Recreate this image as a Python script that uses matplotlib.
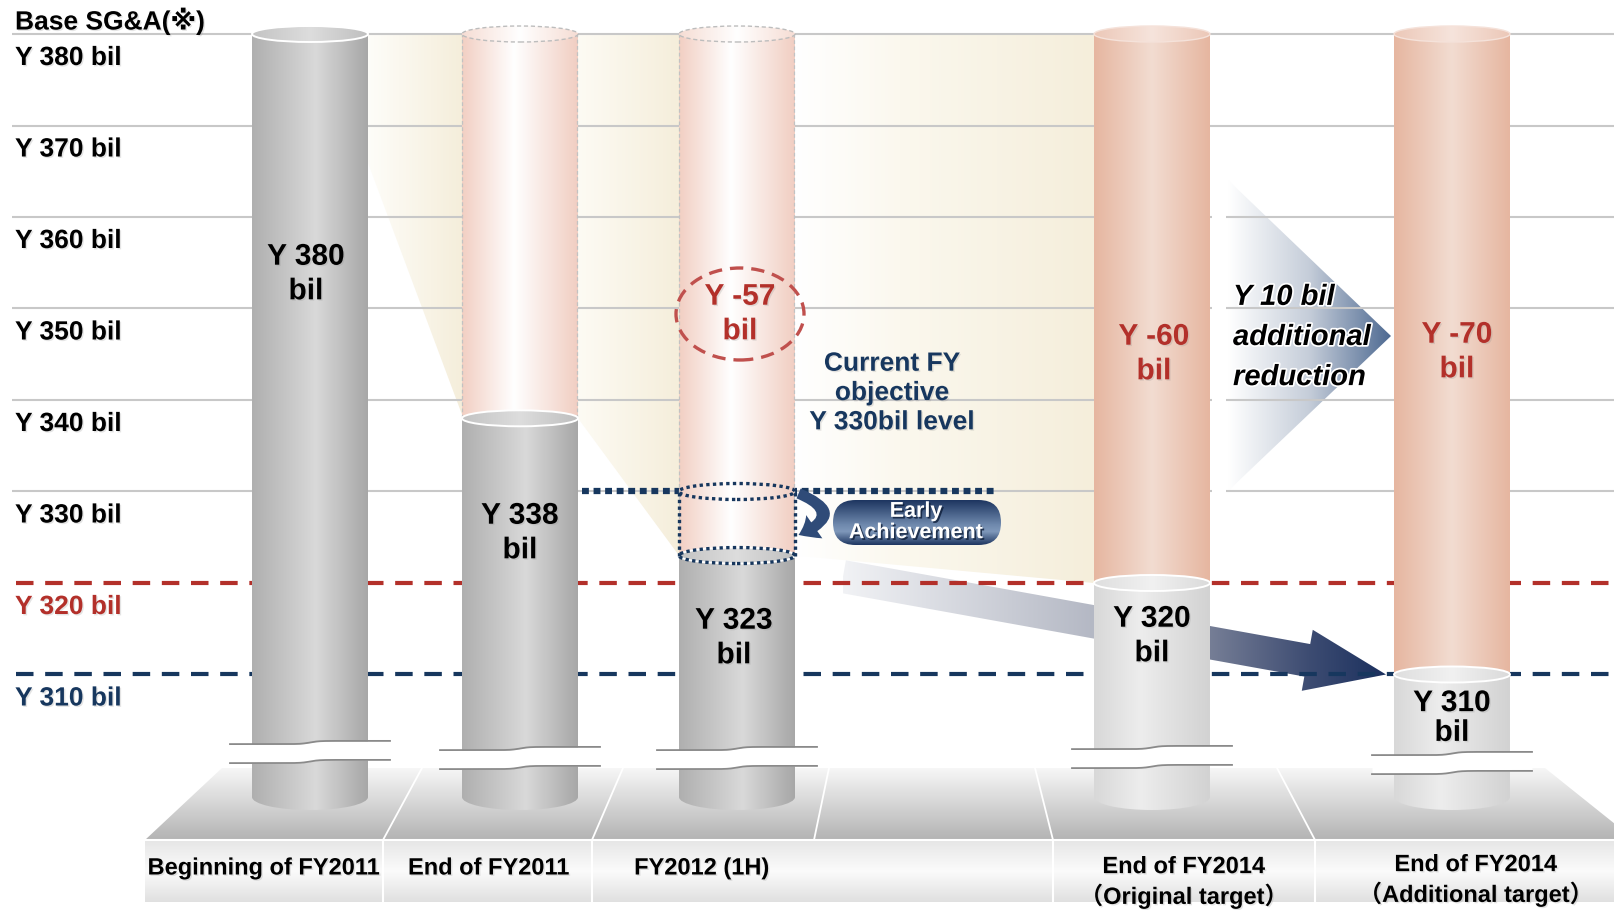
import numpy as np
import matplotlib
matplotlib.use("Agg")
import matplotlib.pyplot as plt
from matplotlib.patches import Rectangle, Ellipse, Polygon, FancyBboxPatch, FancyArrowPatch
from matplotlib.colors import LinearSegmentedColormap
import matplotlib.patheffects as pe

plt.rcParams['font.family'] = ['Liberation Sans', 'Noto Sans CJK JP']
plt.rcParams['font.weight'] = 'bold'

# ---------------- data ----------------
categories = ["Beginning of FY2011", "End of FY2011", "FY2012 (1H)",
              "End of FY2014\n（Original target）", "End of FY2014\n（Additional target）"]
sga = [380, 338, 323, 320, 310]            # base SG&A, billion yen
reduction = [None, None, -57, -60, -70]    # change vs. beginning of FY2011
tick_levels = [380, 370, 360, 350, 340, 330, 320, 310]
tick_labels = [f"Y {t} bil" for t in tick_levels]
grid_levels = [380, 370, 360, 350, 340, 330]
original_target = 320
additional_target = 310
current_objective = 330
additional_cut = original_target - additional_target

# ---------------- layout ----------------
W, H = 1615, 910
PX = 9.15            # pixels per billion yen
Y_TOP_LINE = 34      # pixel row of the 380 level
TOP = tick_levels[0]


def v_of(ypx):
    return TOP - (ypx - Y_TOP_LINE) / PX


def y_of(v):
    return Y_TOP_LINE + (TOP - v) * PX


bar_x = [310, 520, 737, 1152, 1452]
bar_w = 116
base_v = v_of(797)
break_v = [v_of(752), v_of(758), v_of(758), v_of(757), v_of(763)]
cat_x = [264, 489, 702, 1184, 1476]
cat_y = [868, 868, 868, 882, 880]
value_lbl = [(306, 274), (520, 533), (734, 638), (1152, 636), (1452, 718)]
value_ls = [1.3, 1.3, 1.3, 1.3, 1.08]
cut_lbl = [None, None, (740, 314), (1154, 354), (1457, 352)]

NAVY = '#17375e'
RED = '#b3302a'

fig = plt.figure(figsize=(W / 100, H / 100), dpi=100)
ax = fig.add_axes([0, 0, 1, 1])
ax.axis('off')


def grad(extent, colors, stops=None, vertical=False, clip=None, z=1):
    if stops is None:
        stops = np.linspace(0, 1, len(colors))
    cmap = LinearSegmentedColormap.from_list('g', list(zip(stops, colors)))
    g = np.linspace(0, 1, 256)
    arr = g[:, None] if vertical else g[None, :]
    im = ax.imshow(arr, cmap=cmap, extent=extent, aspect='auto',
                   origin='upper' if vertical else 'lower',
                   interpolation='bilinear', zorder=z)
    if clip is not None:
        clip.set_transform(ax.transData)
        im.set_clip_path(clip)
    return im


shadow = [pe.SimplePatchShadow(offset=(1.0, -1.0), shadow_rgbFace='#888888', alpha=0.22), pe.Normal()]

# ---------------- background wedge (beige) ----------------
edges = [b + s * bar_w / 2 for b in bar_x for s in (-1, 1)]
wedges = [
    ([(edges[1], TOP), (edges[2], TOP), (edges[2], sga[1] + 0.4), (edges[1], 365.9)],
     ['#fefdf9', '#f5eedb'], None),
    ([(edges[3], TOP), (edges[4], TOP), (edges[4], sga[2]), (edges[3], sga[1])],
     ['#fdfbf4', '#f5eedb'], None),
    ([(edges[5], TOP), (edges[6], TOP), (edges[6], sga[3]), (edges[5], sga[2])],
     ['#ffffff', '#fbf8ee', '#f5eedb'], [0, 0.35, 1]),
]
for pts, cols, st in wedges:
    poly = Polygon(pts, closed=True)
    xs = [p[0] for p in pts]
    vs = [p[1] for p in pts]
    grad([min(xs), max(xs), min(vs), max(vs)], cols, st, clip=poly, z=1)

# ---------------- "additional reduction" triangle ----------------
tri = Polygon([(1228, v_of(180)), (1391, v_of(336)), (1228, v_of(491))], closed=True)
grad([1228, 1391, v_of(491), v_of(180)], ['#ffffff', '#c5cdd9', '#4e6a92'], [0, 0.5, 1], clip=tri, z=1.2)

# ---------------- grid and target lines ----------------
ax.hlines(grid_levels, 12, W, color='#c8c8c8', lw=1.5, zorder=2)
ax.add_patch(Rectangle((1212, v_of(495)), 14, (495 - 176) / PX, fc='white', ec='none', zorder=2.2))

# ---------------- big arrow toward the additional target ----------------
start = np.array([edges[5] + 48, y_of(sga[2] - 2.3)])
tip = np.array([edges[8] - 8, y_of(sga[4])])
d = tip - start
u = d / np.linalg.norm(d)
nrm = np.array([-u[1], u[0]])
hl, hw, sw = 80, 31, 16.5
hb = tip - u * hl
apts = [start + nrm * sw, hb + nrm * sw, hb + nrm * hw, tip, hb - nrm * hw, hb - nrm * sw, start - nrm * sw]
apts = [(p[0], v_of(p[1])) for p in apts]
arrow = Polygon(apts, closed=True)
avs = [p[1] for p in apts]
span = tip[0] - start[0]
grad([start[0], tip[0], min(avs), max(avs)],
     ['#f1f2f5', '#b4b8c4', '#767e96', '#3d4c72', '#1b305e'],
     [0, (edges[6] - start[0]) / span, (edges[7] - start[0]) / span, 0.86, 1], clip=arrow, z=2.4)

ax.hlines(original_target, 16, W, color=RED, lw=3, linestyles=(0, (4.2, 2.8)), zorder=2.7)
ax.hlines(additional_target, 16, W, color=NAVY, lw=3, linestyles=(0, (4.2, 2.8)), zorder=2.7)

# current-year objective dotted line
ax.hlines(current_objective, edges[3] + 4, 994, color=NAVY, lw=4.5, linestyles=(0, (1.1, 0.75)), zorder=2.8)

# ---------------- floor ----------------
floor_px = [(145, 840), (222, 768), (1545, 768), (1615, 824), (1615, 840)]
floor = Polygon([(x, v_of(y)) for x, y in floor_px], closed=True)
grad([145, 1615, v_of(840), v_of(768)], ['#f7f7f7', '#b3b3b3'], vertical=True, clip=floor, z=1.5)
band = Rectangle((145, v_of(902)), W - 145, (902 - 840) / PX)
grad([145, W, v_of(902), v_of(840)], ['#e6e6e6', '#fbfbfb', '#e0e0e0'], [0, 0.5, 1],
     vertical=True, clip=band, z=1.5)
ax.hlines(v_of(840), 145, W, color='white', lw=1.5, zorder=1.6)
for xb in [383, 592, 1053, 1315]:
    ax.vlines(xb, v_of(902), v_of(840), color='white', lw=1.5, zorder=1.6)
for (xb, xt) in [(383, 422), (592, 623), (814, 829), (1053, 1035), (1315, 1277)]:
    ax.plot([xb, xt], [v_of(840), v_of(768)], color='white', lw=1.3, zorder=1.6)

# ---------------- cylinders ----------------
GRAY = (['#afafaf', '#d9d9d9', '#a7a7a7'], [0, 0.55, 1])
LIGHT = (['#d8d8d8', '#ededed', '#d2d2d2'], [0, 0.4, 1])
PINK = (['#f2cfc3', '#ffffff', '#f1cec2'], [0, 0.45, 1])
SALMON = (['#e6b6a0', '#f2dcd1', '#e6b6a0'], [0, 0.5, 1])
GRAY_CAP = (['#c3c3c3', '#dddddd', '#bfbfbf'], [0, 0.5, 1])
LIGHT_CAP = (['#dedede', '#f1f1f1', '#dadada'], [0, 0.5, 1])
PINK_CAP = (['#f6ddd4', '#ffffff', '#f6ddd4'], [0, 0.5, 1])
SALMON_CAP = (['#ecc8b8', '#f6e4dc', '#ecc8b8'], [0, 0.5, 1])
cap_h = 16 / PX


def body(xc, v0, v1, style, z):
    grad([xc - bar_w / 2, xc + bar_w / 2, v0, v1], style[0], style[1], z=z)


def cap(xc, v, style, z, ec='white', ls='-', lw=1.4, h=cap_h):
    e = Ellipse((xc, v), bar_w, h)
    grad([xc - bar_w / 2, xc + bar_w / 2, v - h, v + h], style[0], style[1], clip=e, z=z)
    ax.add_patch(Ellipse((xc, v), bar_w, h, fill=False, ec=ec, ls=ls, lw=lw, zorder=z + 0.01))


for i, (xc, v) in enumerate(zip(bar_x, sga)):
    lower = GRAY if i < 3 else LIGHT
    e = Ellipse((xc, base_v), bar_w, 26 / PX)
    grad([xc - bar_w / 2, xc + bar_w / 2, base_v - 2, base_v + 2], lower[0], lower[1], clip=e, z=3)
    body(xc, base_v, v, lower, 3)
    if v < TOP:
        pink = i in (1, 2)
        body(xc, v, TOP, PINK if pink else SALMON, 3.1)
        if pink:
            ax.vlines([xc - bar_w / 2 + 0.5, xc + bar_w / 2 - 0.5], v, TOP, color='#c2c2c2',
                      lw=0.9, linestyles=(0, (3, 2)), zorder=3.15)
            cap(xc, TOP, PINK_CAP, 3.2, ec='#bdbdbd', ls=(0, (3, 2)), lw=1.0)
        else:
            cap(xc, TOP, SALMON_CAP, 3.2, ec='#f5e2da', lw=1.0)
    cap(xc, v, GRAY_CAP if i < 3 else LIGHT_CAP, 3.3)

# axis-break marks
for xc, vb in zip(bar_x, break_v):
    xs = np.linspace(xc - 80, xc + 80, 200)
    s = 0.5 * (1 + np.tanh((xs - xc) / 9))
    w = vb + (s - 0.5) * 3.2 / PX
    g = 19 / PX / 2
    ax.fill_between(xs, w - g, w + g, color='white', lw=0, zorder=4)
    ax.plot(xs, w + g, color='#8a8a8a', lw=1.3, zorder=4.1)
    ax.plot(xs, w - g, color='#8a8a8a', lw=1.3, zorder=4.1)

# early-achievement dotted cylinder on FY2012 (1H)
x3 = bar_x[2]
for lv in (current_objective, sga[2]):
    ax.add_patch(Ellipse((x3, lv), bar_w, cap_h, fill=False, ec=NAVY, lw=2.4,
                         ls=(0, (1, 1)), zorder=5))
ax.vlines([x3 - bar_w / 2, x3 + bar_w / 2], sga[2], current_objective, color=NAVY, lw=2.4,
          linestyles=(0, (1, 1)), zorder=5)

# curved arrow and pill
ax.add_patch(FancyArrowPatch((edges[5] + 1, current_objective - 0.1), (edges[5] + 1, v_of(536)),
                             connectionstyle='arc3,rad=-1.25',
                             arrowstyle='simple,head_length=0.75,head_width=1.2,tail_width=0.45',
                             mutation_scale=17, color='#2f4b78', lw=0, zorder=5))
pill = FancyBboxPatch((833, v_of(545)), 168, 45 / PX, boxstyle='round,pad=0,rounding_size=22.5',
                      mutation_aspect=1 / PX)
grad([833, 1001, v_of(545), v_of(500)], ['#1d3560', '#6f89ad', '#7f98ba', '#1d3560'],
     [0, 0.55, 0.7, 1], vertical=True, clip=pill, z=5)
ax.text(916, v_of(522), "Early\nAchievement", ha='center', va='center', fontsize=15.5,
        color='white', linespacing=1.02, zorder=6,
        path_effects=[pe.SimplePatchShadow(offset=(1.2, -1.2), shadow_rgbFace='#0d1d38', alpha=0.8),
                      pe.Normal()])

# ---------------- text ----------------
ax.text(15, v_of(21), "Base SG&A(※)", ha='left', va='center', fontsize=19, color='black',
        family=['Liberation Sans', 'DejaVu Sans'], zorder=10, path_effects=shadow)
for lvl, lab in zip(tick_levels, tick_labels):
    col = RED if lvl == original_target else NAVY if lvl == additional_target else 'black'
    ax.text(15, lvl - 24 / PX, lab, ha='left', va='center', fontsize=19, color=col,
            zorder=10, path_effects=shadow)

for i, v in enumerate(sga):
    xl, yl = value_lbl[i]
    ax.text(xl, v_of(yl), f"Y {v}\nbil", ha='center', va='center', fontsize=21.5,
            linespacing=value_ls[i], color='black', zorder=10, path_effects=shadow)
    if reduction[i] is not None:
        xr, yr = cut_lbl[i]
        ax.text(xr, v_of(yr), f"Y {reduction[i]}\nbil", ha='center', va='center', fontsize=21.5,
                linespacing=1.3, color=RED, zorder=10, path_effects=shadow)

ax.add_patch(Ellipse((740, v_of(314)), 128, 92 / PX, fill=False, ec='#c0504d', lw=2.4,
                     ls=(0, (4, 2.4)), zorder=9))

ax.text(892, v_of(393), f"Current FY\nobjective\nY {current_objective}bil level", ha='center',
        va='center', fontsize=19, linespacing=1.28, color=NAVY, zorder=10, path_effects=shadow)

ax.text(1233, v_of(337), f"Y {additional_cut} bil\nadditional\nreduction", ha='left', va='center',
        fontsize=21, style='italic', linespacing=1.55, color='black', zorder=10,
        path_effects=[pe.withStroke(linewidth=2.5, foreground='white')])

for lab, xc, yc in zip(categories, cat_x, cat_y):
    ax.text(xc, v_of(yc), lab, ha='center', va='center', fontsize=17, linespacing=1.27,
            color='black', zorder=10, path_effects=shadow)

ax.set_xlim(0, W)
ax.set_ylim(v_of(H), v_of(0))
fig.savefig('out.png', dpi=100)
